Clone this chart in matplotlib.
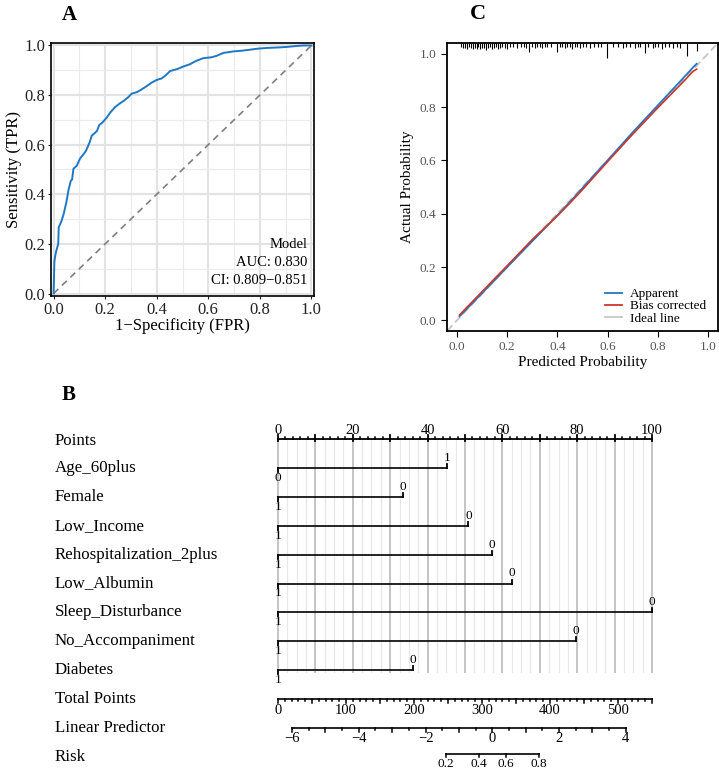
import matplotlib
matplotlib.use("Agg")
import matplotlib.pyplot as plt
import numpy as np

plt.rcParams['font.family'] = ['Liberation Serif', 'DejaVu Serif']

# ---- panel A: ROC curve ----
roc_fpr = [0.0, 0.003, 0.006, 0.01, 0.018, 0.02, 0.03, 0.039, 0.05, 0.058, 0.067, 0.072, 0.077,
           0.09, 0.103, 0.115, 0.126, 0.14, 0.148, 0.168, 0.172, 0.177, 0.19, 0.206, 0.22,
           0.239, 0.255, 0.271, 0.29, 0.303, 0.323, 0.34, 0.361, 0.38, 0.40, 0.419, 0.435,
           0.452, 0.48, 0.503, 0.53, 0.555, 0.581, 0.61, 0.632, 0.658, 0.697, 0.73, 0.755,
           0.79, 0.826, 0.87, 0.903, 0.942, 0.97, 1.0]
roc_tpr = [0.0, 0.127, 0.15, 0.17, 0.2, 0.267, 0.29, 0.32, 0.37, 0.418, 0.455, 0.46, 0.503,
           0.515, 0.545, 0.56, 0.576, 0.61, 0.636, 0.655, 0.665, 0.679, 0.69, 0.709, 0.73,
           0.752, 0.765, 0.776, 0.792, 0.806, 0.812, 0.822, 0.836, 0.85, 0.861, 0.867, 0.88,
           0.897, 0.905, 0.915, 0.925, 0.939, 0.949, 0.952, 0.958, 0.97, 0.976, 0.979, 0.982,
           0.987, 0.99, 0.992, 0.994, 0.998, 1.0, 1.0]
roc_text = ["Model", "AUC: 0.830", "CI: 0.809\u22120.851"]

# ---- panel C: calibration ----
cal_pred = [0.01, 0.1, 0.2, 0.3, 0.4, 0.45, 0.5, 0.6, 0.7, 0.8, 0.9, 0.94, 0.955]
cal_apparent = [0.015, 0.102, 0.2, 0.297, 0.394, 0.444, 0.496, 0.6, 0.705, 0.806, 0.907, 0.948, 0.962]
cal_bias = [0.02, 0.108, 0.205, 0.303, 0.392, 0.44, 0.49, 0.595, 0.698, 0.797, 0.893, 0.933, 0.942]
rug_x = [0.015, 0.025, 0.032, 0.04, 0.048, 0.055, 0.063, 0.07, 0.078, 0.085, 0.093, 0.10,
         0.108, 0.116, 0.124, 0.131, 0.14, 0.148, 0.156, 0.165, 0.173, 0.18, 0.19, 0.2,
         0.212, 0.225, 0.24, 0.255, 0.265, 0.275, 0.288, 0.30, 0.31, 0.32, 0.33, 0.34,
         0.35, 0.36, 0.375, 0.40, 0.41, 0.42, 0.43, 0.44, 0.45, 0.46, 0.47, 0.48, 0.49,
         0.50, 0.515, 0.53, 0.545, 0.56, 0.575, 0.596, 0.62, 0.64, 0.66, 0.675, 0.69,
         0.71, 0.72, 0.73, 0.748, 0.76, 0.78, 0.79, 0.80, 0.815, 0.83, 0.845, 0.86, 0.875,
         0.89, 0.916, 0.956]
rug_h = [0.016, 0.02, 0.018, 0.022, 0.016, 0.02, 0.024, 0.018, 0.022, 0.016, 0.024, 0.02,
         0.018, 0.026, 0.02, 0.016, 0.022, 0.018, 0.016, 0.024, 0.02, 0.016, 0.018, 0.022,
         0.016, 0.014, 0.018, 0.014, 0.016, 0.02, 0.034, 0.016, 0.02, 0.014, 0.016, 0.018,
         0.014, 0.016, 0.014, 0.032, 0.016, 0.014, 0.018, 0.014, 0.016, 0.022, 0.016, 0.014,
         0.018, 0.014, 0.016, 0.02, 0.014, 0.016, 0.014, 0.056, 0.016, 0.014, 0.018, 0.014,
         0.016, 0.02, 0.014, 0.016, 0.038, 0.016, 0.02, 0.016, 0.014, 0.024, 0.016, 0.014,
         0.02, 0.016, 0.018, 0.05, 0.03]

# ---- panel B: nomogram ----
nomo_vars = ["Age_60plus", "Female", "Low_Income", "Rehospitalization_2plus", "Low_Albumin",
             "Sleep_Disturbance", "No_Accompaniment", "Diabetes"]
nomo_points = [45.2, 33.4, 50.9, 57.2, 62.6, 100.0, 79.7, 36.1]
nomo_left_lab = ["0", "1", "1", "1", "1", "1", "1", "1"]
nomo_right_lab = ["1", "0", "0", "0", "0", "0", "0", "0"]
total_max = 550
total_ticks = [0, 100, 200, 300, 400, 500]
lp_min, lp_max = -6, 4
lp_ticks = [-6, -4, -2, 0, 2, 4]
lp_x_min, lp_x_max = 3.74, 93.0   # LP range on the points scale
risk_ticks = [0.2, 0.4, 0.6, 0.8]

fig = plt.figure(figsize=(7.19, 7.71), dpi=100)

# ================= A =================
axA = fig.add_axes([51/719, (771-296)/771, 263/719, 253/771])
axA.plot(roc_fpr, roc_tpr, color="#1f78c4", lw=1.4, zorder=3)
axA.plot([0, 1], [0, 1], ls=(0, (4, 3)), color="#7f7f7f", lw=1.2, zorder=2)
axA.set_xlim(-0.01, 1.01)
axA.set_ylim(-0.01, 1.01)
axA.set_xticks(np.arange(0, 1.01, 0.2))
axA.set_yticks(np.arange(0, 1.01, 0.2))
axA.set_xticks(np.arange(0.1, 1.0, 0.2), minor=True)
axA.set_yticks(np.arange(0.1, 1.0, 0.2), minor=True)
axA.grid(which="major", color="#e3e3e3", lw=1.5)
axA.grid(which="minor", color="#ebebeb", lw=0.8)
axA.set_axisbelow(True)
axA.tick_params(which="minor", length=0)
axA.tick_params(which="major", length=2.5, width=0.8, pad=1.5, labelsize=12, colors="#222222")
for s in axA.spines.values():
    s.set_linewidth(1.2)
axA.set_xlabel("1\u2212Specificity (FPR)", fontsize=12, labelpad=0)
axA.set_ylabel("Sensitivity (TPR)", fontsize=12, labelpad=2)
for i, t in enumerate(roc_text):
    axA.text(0.985, 0.198 - 0.073*i, t, ha="right", va="center", fontsize=10.5)
fig.text(62/719, 1 - 15/771, "A", fontsize=15, fontweight="bold", ha="left", va="center")

# ================= C =================
axC = fig.add_axes([447/719, (771-331)/771, 271/719, 288/771])
axC.plot([-0.04, 1.04], [-0.04, 1.04], ls=(0, (4, 2)), color="#c8c8c8", lw=1.4, zorder=1)
axC.plot(cal_pred, cal_apparent, color="#1f78c4", lw=1.3, zorder=3)
axC.plot(cal_pred, cal_bias, color="#d0352b", lw=1.2, zorder=4)
axC.vlines(rug_x, 1.04 - np.array(rug_h), 1.04, color="black", lw=0.8)
axC.set_xlim(-0.04, 1.04)
axC.set_ylim(-0.04, 1.04)
axC.set_xticks(np.arange(0, 1.01, 0.2))
axC.set_yticks(np.arange(0, 1.01, 0.2))
axC.set_xticklabels([f"{v:.1f}" for v in np.arange(0, 1.01, 0.2)])
axC.set_yticklabels([f"{v:.1f}" for v in np.arange(0, 1.01, 0.2)])
axC.tick_params(length=4, width=0.8, labelsize=9.5, labelcolor="#555555")
for s in axC.spines.values():
    s.set_linewidth(1.3)
axC.set_xlabel("Predicted Probability", fontsize=11, labelpad=2)
axC.set_ylabel("Actual Probability", fontsize=11, labelpad=4)
hA, = axC.plot([], [], color="#1f78c4", lw=1.3)
hB, = axC.plot([], [], color="#d0352b", lw=1.3)
hI, = axC.plot([], [], color="#c8c8c8", lw=1.3)
axC.legend([hA, hB, hI], ["Apparent", "Bias corrected", "Ideal line"], loc="lower right",
           bbox_to_anchor=(0.99, -0.01), frameon=False, fontsize=9.5, handlelength=1.3,
           labelspacing=0.0, handletextpad=0.6, borderaxespad=0.3)
fig.text(470/719, 1 - 14/771, "C", fontsize=16, fontweight="bold", ha="left", va="center")

# ================= B =================
px0, ppp = 278.0, 3.74          # pixel of 0 points, pixels per point
row0, rowh = 439.0, 28.9        # pixel of first row, row spacing
axB = fig.add_axes([0, 0, 1, 391/771])
axB.set_xlim(-px0/ppp, (719 - px0)/ppp)
axB.set_ylim((771 - row0)/rowh, (380 - row0)/rowh)
axB.axis("off")
pxr = 1/rowh  # one pixel in row units

# grid
n_var = len(nomo_vars)
for g in np.arange(0, 100.01, 2.5):
    major = abs(g % 10) < 1e-9
    axB.plot([g, g], [0, n_var + 0.06], color="#c4c4c4" if major else "#e8e8e8",
             lw=1.4 if major else 0.9, zorder=0)

# Points axis
axB.plot([0, 100], [0, 0], color="black", lw=1.3)
for p in np.arange(0, 100.01, 2):
    if abs(p % 10) < 1e-9:
        axB.plot([p, p], [2*pxr, -4*pxr], color="black", lw=1.3)
    else:
        axB.plot([p, p], [0, -2*pxr], color="black", lw=1.1)
for p in range(0, 101, 20):
    axB.text(p, -9*pxr, str(p), ha="center", va="center", fontsize=10.5)
labels = ["Points"] + nomo_vars + ["Total Points", "Linear Predictor", "Risk"]
for i, lab in enumerate(labels):
    axB.text((55 - px0)/ppp, i + (2*pxr if i == 0 else 0), lab, ha="left", va="center",
             fontsize=12.2)

# variable rows
for i, (v, pts) in enumerate(zip(nomo_vars, nomo_points), start=1):
    axB.plot([0, pts], [i, i], color="black", lw=1.2)
    axB.plot([0, 0], [i, i + 4*pxr], color="black", lw=1.3)
    axB.plot([pts, pts], [i, i - 4*pxr], color="black", lw=1.3)
    axB.text(0, i + 10*pxr, nomo_left_lab[i-1], ha="center", va="center", fontsize=9.5)
    axB.text(pts, i - 10*pxr, nomo_right_lab[i-1], ha="center", va="center", fontsize=9.5)

# Total points
r = n_var + 1
tp2x = lambda t: t * 100 / total_max
axB.plot([0, tp2x(total_max)], [r, r], color="black", lw=1.2)
for t in range(0, total_max + 1, 10):
    ln = 4 if t % 50 == 0 else 2
    axB.plot([tp2x(t)]*2, [r, r + ln*pxr], color="black", lw=1.1)
for t in total_ticks:
    axB.text(tp2x(t), r + 11*pxr, str(t), ha="center", va="center", fontsize=10.5)

# Linear predictor
r = n_var + 2
lp2x = lambda v: lp_x_min + (v - lp_min) * (lp_x_max - lp_x_min) / (lp_max - lp_min)
axB.plot([lp2x(lp_min), lp2x(lp_max)], [r, r], color="black", lw=1.2)
for v in np.arange(lp_min, lp_max + 0.01, 0.5):
    ln = 4 if abs(v % 1) < 1e-9 else 2
    axB.plot([lp2x(v)]*2, [r, r + ln*pxr], color="black", lw=1.1)
for v in lp_ticks:
    axB.text(lp2x(v), r + 10*pxr, f"{v}".replace("-", "\u2212"), ha="center", va="center",
             fontsize=10.5)

# Risk (axis sits a little above its label row so the numbers fit)
r = n_var + 3 - 3*pxr
risk2x = lambda p: lp2x(np.log(p / (1 - p)))
axB.plot([risk2x(risk_ticks[0]), risk2x(risk_ticks[-1])], [r, r], color="black", lw=1.2)
for p in risk_ticks:
    axB.plot([risk2x(p)]*2, [r, r + 3.5*pxr], color="black", lw=1.1)
    axB.text(risk2x(p), r + 10*pxr, f"{p:.1f}", ha="center", va="center", fontsize=9.5)

fig.text(62/719, 1 - 395/771, "B", fontsize=15, fontweight="bold", ha="left", va="center")

fig.savefig("out.png", dpi=100)
